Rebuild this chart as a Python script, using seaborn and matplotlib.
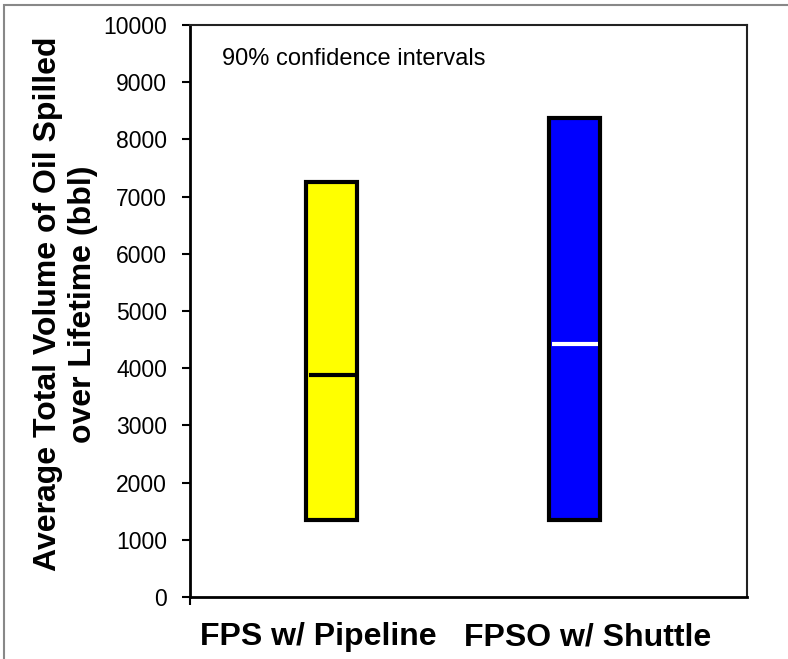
import numpy as np
import matplotlib
matplotlib.use("Agg")
import matplotlib.pyplot as plt
import seaborn as sns
from matplotlib.patches import Rectangle

# 数据：90% 置信区间
categories = ["FPS w/ Pipeline", "FPSO w/ Shuttle"]
low = [1350, 1350]
high = [7260, 8380]
mean = [3880, 4430]
bar_colors = ["#FFFF00", "#0000FF"]
mean_colors = ["black", "white"]
y_ticks = list(range(0, 10001, 1000))

sns.set_theme(style="white")
plt.rcParams["font.family"] = ["Liberation Sans", "DejaVu Sans"]
for k in ["text.color", "axes.labelcolor", "xtick.color", "ytick.color"]:
    plt.rcParams[k] = "black"

fig = plt.figure(figsize=(7.88, 6.59), dpi=100)
ax = fig.add_axes([190 / 788, 62 / 659, 557 / 788, 572 / 659])

heights = [h - l for h, l in zip(high, low)]
sns.barplot(x=categories, y=heights, bottom=low, width=0.21, color=bar_colors[0],
            saturation=1, edgecolor="black", linewidth=3, ax=ax)
for p, c in zip(ax.patches, bar_colors):
    p.set_facecolor(c)

# 均值线
for p, m, c in zip(ax.patches, mean, mean_colors):
    x0 = p.get_x()
    w = p.get_width()
    ax.hlines(m, x0 + 0.01, x0 + w - 0.01, colors=c, linewidth=3, zorder=5)

ax.set_xlim(-0.584, 1.708)
ax.set_ylim(0, 10000)
ax.set_yticks(y_ticks)
ax.set_yticklabels([str(t) for t in y_ticks], fontsize=16.5)
ax.tick_params(axis="y", direction="out", length=6, width=1.5, color="black",
               left=True, pad=10.5)

# x 轴标签位置与原图对齐
ax.set_xticks([-0.056, 1.051])
ax.set_xticklabels(categories, fontsize=23, fontweight="bold")
ax.tick_params(axis="x", which="major", length=0, pad=18)
ax.set_xticks([-0.584], minor=True)
ax.tick_params(axis="x", which="minor", direction="out", length=6, width=1.5,
               color="black", bottom=True)
ax.set_xlabel("")

ax.set_ylabel("Average Total Volume of Oil Spilled\nover Lifetime (bbl)",
              fontsize=23, fontweight="bold", labelpad=4, linespacing=1.2)
ax.yaxis.label.set_y(0.512)

for side in ["left", "bottom"]:
    ax.spines[side].set_color("black")
    ax.spines[side].set_linewidth(2)
for side in ["top", "right"]:
    ax.spines[side].set_color("#222222")
    ax.spines[side].set_linewidth(1.5)

ax.text(0.057, 0.94, "90% confidence intervals", transform=ax.transAxes,
        fontsize=17, ha="left", va="center")

# 外边框
fig.patches.append(Rectangle((4 / 788, -0.05), 1.1, (654 / 659) + 0.05,
                             transform=fig.transFigure, fill=False,
                             edgecolor="#888888", linewidth=1.5))

fig.savefig("out.png", dpi=100)
plt.close(fig)
